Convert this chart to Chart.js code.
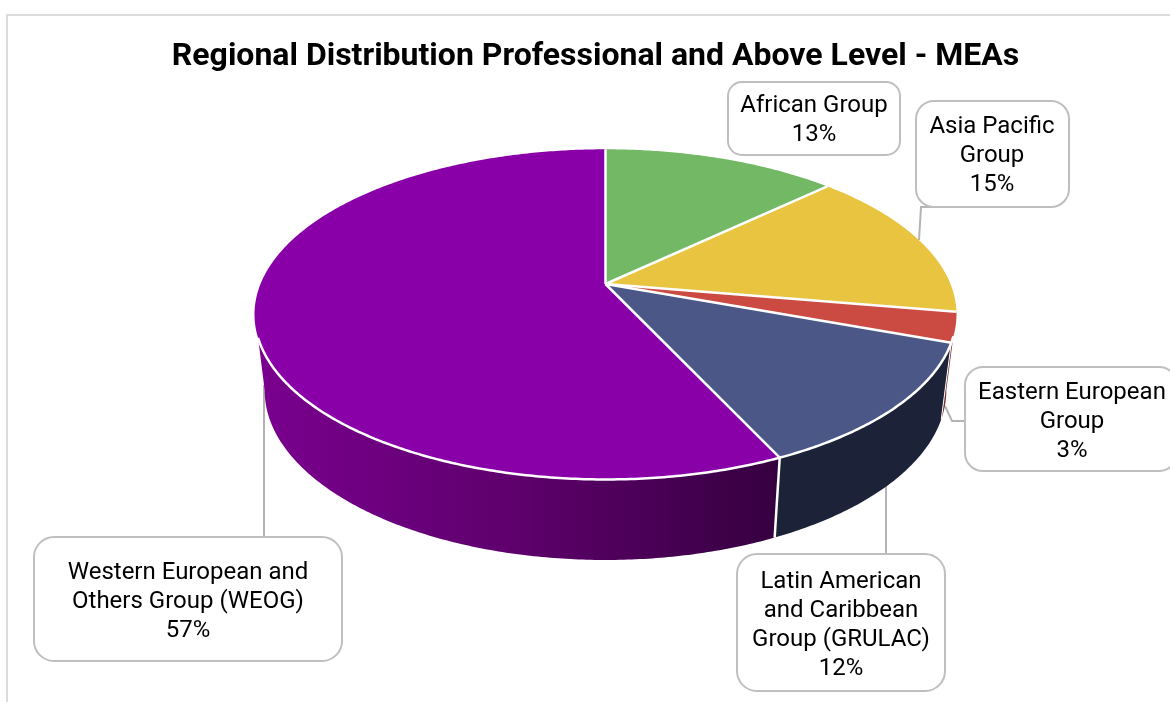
<!DOCTYPE html>
<html><head><meta charset="utf-8">
<style>
html,body{margin:0;padding:0;background:#fff;overflow:hidden;width:1170px;height:702px}
#frame{position:absolute;left:6px;top:14px;width:1170px;height:700px;border-left:2px solid #dcdcdc;border-top:2px solid #dcdcdc}
canvas{position:absolute;left:0;top:0}
</style>
<script src="https://cdn.jsdelivr.net/npm/chart.js@4"></script>
</head><body>
<div id="frame"></div>
<canvas id="c" width="1170" height="702"></canvas>
<script>
const categories = ['African Group','Asia Pacific Group','Eastern European Group','Latin American and Caribbean Group (GRULAC)','Western European and Others Group (WEOG)'];
const shares = [12.9,14.8,2.9,12.49,56.91];
const labelLines = [['African Group'],['Asia Pacific','Group'],['Eastern European','Group'],['Latin American','and Caribbean','Group (GRULAC)'],['Western European and','Others Group (WEOG)']];
const topColors = ['#72b865','#e8c440','#cb4b43','#4a5787','#8900a8'];
const wallColors = ['#3f6b38','#8a7226','#7a2f2a','#1c2238',null];
const chartTitle = 'Regional Distribution Professional and Above Level - MEAs';

// Perspective of the disc (layout constants)
const P = {cx:605.5, top:{cy:284, rx:345, ry:159.5}, bottom:{cy:359, rx:335, ry:164}, k:0.184};
const project = (a, plane) => {
  const u = Math.cos(a), v = Math.sin(a), w = 1 - P.k * v;
  return [P.cx + plane.rx * u / w, plane.cy + plane.ry * v / w];
};
const traceRim = (ctx, a0, a1, plane, first) => {
  const n = Math.max(2, Math.ceil(Math.abs(a1 - a0) / 0.01));
  for (let i = 0; i <= n; i++) {
    const p = project(a0 + (a1 - a0) * i / n, plane);
    if (i === 0 && first) ctx.moveTo(p[0], p[1]); else ctx.lineTo(p[0], p[1]);
  }
};
// Front-facing angle ranges on the upper and lower rims
const upperRange = [Math.asin(0.31), Math.PI - Math.asin(0.318)];
const lowerRange = [Math.asin(0.184), Math.PI - Math.asin(0.184)];

// Slices are drawn by the library's arc elements, in projection
Chart.ArcElement.prototype.draw = function (ctx) {
  const a0 = this.startAngle, a1 = this.endAngle;
  ctx.save();
  ctx.beginPath();
  ctx.moveTo(P.cx, P.top.cy);
  traceRim(ctx, a0, a1, P.top, false);
  ctx.closePath();
  ctx.fillStyle = this.options.backgroundColor;
  ctx.fill();
  ctx.restore();
};

const wallsPlugin = {
  id: 'walls',
  beforeDatasetsDraw(chart) {
    const ctx = chart.ctx;
    // leader lines sit behind the disc
    ctx.save();
    ctx.strokeStyle = '#b4b4b4'; ctx.lineWidth = 2;
    [[[935,207],[921,207],[919,240]],
     [[965,421],[952,421],[945,406]],
     [[886,554],[886,480]],
     [[264,537],[264,385]]].forEach(seg => {
      ctx.beginPath();
      seg.forEach((p, i) => i ? ctx.lineTo(p[0], p[1]) : ctx.moveTo(p[0], p[1]));
      ctx.stroke();
    });
    const arcs = chart.getDatasetMeta(0).data;
    const grad = ctx.createLinearGradient(257, 0, 775, 0);
    grad.addColorStop(0, '#7a008f');
    grad.addColorStop(0.5, '#5e006c');
    grad.addColorStop(1, '#360040');
    arcs.forEach((arc, i) => {
      const u0 = Math.max(arc.startAngle, upperRange[0]), u1 = Math.min(arc.endAngle, upperRange[1]);
      const l0 = Math.max(arc.startAngle, lowerRange[0]), l1 = Math.min(arc.endAngle, lowerRange[1]);
      if (u1 <= u0 && l1 <= l0) return;
      ctx.beginPath();
      traceRim(ctx, u0, Math.max(u0, u1), P.top, true);
      traceRim(ctx, Math.max(l0, l1), l0, P.bottom, false);
      ctx.closePath();
      ctx.fillStyle = wallColors[i] || grad;
      ctx.fill();
    });
    ctx.restore();
  },
  afterDatasetsDraw(chart) {
    const ctx = chart.ctx;
    const arcs = chart.getDatasetMeta(0).data;
    ctx.save();
    ctx.strokeStyle = '#ffffff'; ctx.lineWidth = 2.5; ctx.lineJoin = 'round';
    arcs.forEach(arc => {
      const e = project(arc.startAngle, P.top);
      ctx.beginPath(); ctx.moveTo(P.cx, P.top.cy); ctx.lineTo(e[0], e[1]); ctx.stroke();
      if (arc.startAngle > upperRange[0] && arc.startAngle < upperRange[1]) {
        const b = project(arc.startAngle, P.bottom);
        ctx.beginPath(); ctx.moveTo(e[0], e[1]); ctx.lineTo(b[0], b[1]);
        ctx.lineWidth = arc.startAngle > 1 ? 2.5 : 1;
        ctx.stroke(); ctx.lineWidth = 2.5;
      }
    });
    ctx.beginPath();
    traceRim(ctx, upperRange[0], upperRange[1], P.top, true);
    ctx.stroke();
    ctx.restore();
  }
};

// Callouts: box geometry and text come from the arrays above
const boxes = [
  {x:728,y:82,w:172,h:73,r:14,tx:814,ty:106},
  {x:916,y:101,w:153,h:106,r:18,tx:992,ty:127},
  {x:965,y:367,w:212,h:104,r:18,tx:1072,ty:393},
  {x:737,y:554,w:208,h:137,r:20,tx:841,ty:582},
  {x:34,y:537,w:308,h:124,r:20,tx:188,ty:573}
];
const calloutPlugin = {
  id: 'callouts',
  afterDraw(chart) {
    const ctx = chart.ctx;
    const total = shares.reduce((s, v) => s + v, 0);
    ctx.save();
    boxes.forEach((b, i) => {
      ctx.beginPath();
      ctx.roundRect(b.x, b.y, b.w, b.h, b.r);
      ctx.fillStyle = '#fff'; ctx.fill();
      ctx.strokeStyle = '#bfbfbf'; ctx.lineWidth = 2; ctx.stroke();
      ctx.fillStyle = '#000';
      ctx.font = '24px Roboto';
      ctx.textAlign = 'center'; ctx.textBaseline = 'middle';
      const lines = labelLines[i].concat(Math.round(shares[i] / total * 100) + '%');
      lines.forEach((t, j) => ctx.fillText(t, b.tx, b.ty + j * 29));
    });
    ctx.restore();
  }
};

new Chart(document.getElementById('c'), {
  type: 'pie',
  data: { labels: categories, datasets: [{ data: shares, backgroundColor: topColors, borderWidth: 0 }] },
  options: {
    responsive: false,
    animation: false,
    events: [],
    layout: { padding: { left: 21 } },
    plugins: {
      legend: { display: false },
      tooltip: { enabled: false },
      title: { display: true, text: chartTitle, color: '#000', font: { family: 'Roboto', size: 32, weight: 'bold' }, padding: { top: 38, bottom: 4 } }
    }
  },
  plugins: [wallsPlugin, calloutPlugin]
});
</script>
</body></html>
